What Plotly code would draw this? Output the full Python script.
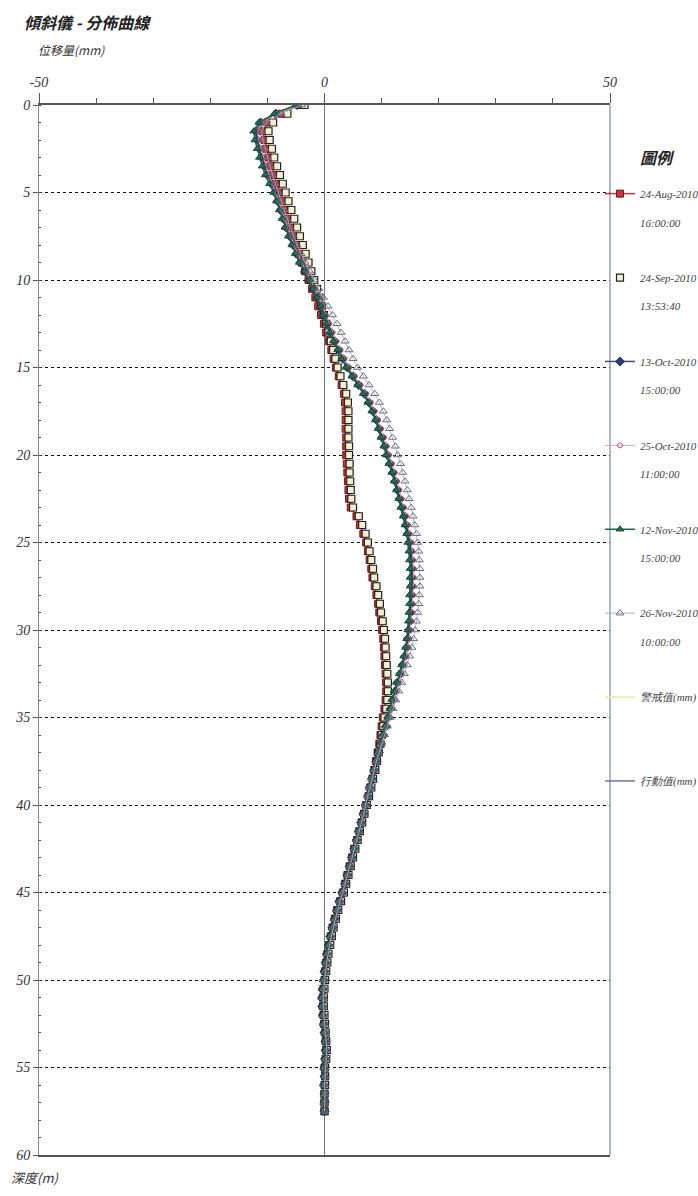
import plotly.graph_objects as go

# Inclinometer readings: depth below collar (m) and cumulative displacement (mm)
depth = [
    0.0, 0.5, 1.0, 1.5, 2.0, 2.5, 3.0, 3.5, 4.0, 4.5,
    5.0, 5.5, 6.0, 6.5, 7.0, 7.5, 8.0, 8.5, 9.0, 9.5,
    10.0, 10.5, 11.0, 11.5, 12.0, 12.5, 13.0, 13.5, 14.0, 14.5,
    15.0, 15.5, 16.0, 16.5, 17.0, 17.5, 18.0, 18.5, 19.0, 19.5,
    20.0, 20.5, 21.0, 21.5, 22.0, 22.5, 23.0, 23.5, 24.0, 24.5,
    25.0, 25.5, 26.0, 26.5, 27.0, 27.5, 28.0, 28.5, 29.0, 29.5,
    30.0, 30.5, 31.0, 31.5, 32.0, 32.5, 33.0, 33.5, 34.0, 34.5,
    35.0, 35.5, 36.0, 36.5, 37.0, 37.5, 38.0, 38.5, 39.0, 39.5,
    40.0, 40.5, 41.0, 41.5, 42.0, 42.5, 43.0, 43.5, 44.0, 44.5,
    45.0, 45.5, 46.0, 46.5, 47.0, 47.5, 48.0, 48.5, 49.0, 49.5,
    50.0, 50.5, 51.0, 51.5, 52.0, 52.5, 53.0, 53.5, 54.0, 54.5,
    55.0, 55.5, 56.0, 56.5, 57.0, 57.5,
]

aug24 = [
    -4.5, -7.5, -10.0, -10.8, -10.5, -10.2, -9.8, -9.4, -9.0, -8.5,
    -8.0, -7.5, -7.0, -6.5, -6.0, -5.5, -5.0, -4.5, -4.0, -3.4,
    -2.8, -2.2, -1.6, -1.1, -0.6, -0.1, 0.3, 0.8, 1.2, 1.6,
    2.0, 2.5, 3.0, 3.4, 3.6, 3.7, 3.7, 3.7, 3.8, 3.8,
    3.8, 3.9, 4.0, 4.1, 4.2, 4.3, 4.6, 5.6, 6.2, 6.8,
    7.3, 7.6, 7.9, 8.2, 8.4, 8.8, 9.1, 9.4, 9.6, 9.9,
    10.1, 10.3, 10.4, 10.5, 10.6, 10.7, 10.8, 10.8, 10.7, 10.5,
    10.2, 10.0, 9.8, 9.6, 9.3, 9.0, 8.7, 8.4, 8.0, 7.7,
    7.3, 6.9, 6.5, 6.1, 5.7, 5.2, 4.8, 4.4, 4.0, 3.6,
    3.2, 2.7, 2.2, 1.8, 1.4, 1.1, 0.8, 0.5, 0.3, 0.1,
    0.0, -0.2, -0.3, -0.3, -0.2, -0.1, 0.1, 0.2, 0.3, 0.2,
    0.0, 0.1, 0.0, 0.0, 0.0, 0.0,
]

sep24 = [
    -3.5, -6.5, -9.0, -9.8, -9.6, -9.2, -8.8, -8.3, -7.8, -7.3,
    -6.8, -6.3, -5.8, -5.3, -4.8, -4.3, -3.8, -3.3, -2.8, -2.3,
    -1.8, -1.3, -0.9, -0.5, -0.1, 0.3, 0.7, 1.1, 1.5, 1.9,
    2.3, 2.8, 3.3, 3.8, 4.1, 4.2, 4.2, 4.2, 4.2, 4.3,
    4.3, 4.4, 4.4, 4.5, 4.6, 4.7, 5.0, 6.0, 6.6, 7.2,
    7.6, 7.9, 8.2, 8.5, 8.7, 9.1, 9.4, 9.7, 9.9, 10.2,
    10.4, 10.6, 10.7, 10.8, 10.9, 11.0, 11.1, 11.1, 11.0, 10.8,
    10.5, 10.3, 10.0, 9.8, 9.5, 9.2, 8.9, 8.5, 8.2, 7.8,
    7.4, 7.0, 6.6, 6.2, 5.8, 5.4, 5.0, 4.6, 4.2, 3.8,
    3.4, 2.9, 2.4, 2.0, 1.6, 1.3, 1.0, 0.7, 0.5, 0.3,
    0.1, 0.0, -0.1, -0.1, 0.0, 0.1, 0.2, 0.3, 0.4, 0.3,
    0.1, 0.1, 0.1, 0.0, 0.0, 0.0,
]

oct13 = [
    -4.8, -8.5, -11.2, -12.0, -11.8, -11.4, -11.0, -10.5, -10.0, -9.3,
    -8.7, -8.2, -7.7, -7.2, -6.7, -6.1, -5.5, -4.9, -4.2, -3.4,
    -2.6, -1.9, -1.2, -0.6, -0.1, 0.5, 1.1, 1.8, 2.5, 3.2,
    4.0, 5.0, 6.0, 7.0, 7.8, 8.5, 9.1, 9.6, 10.1, 10.6,
    11.0, 11.5, 12.0, 12.4, 12.8, 13.2, 13.6, 14.0, 14.3, 14.6,
    14.9, 15.1, 15.2, 15.3, 15.3, 15.3, 15.2, 15.2, 15.1, 15.0,
    14.8, 14.6, 14.4, 14.1, 13.7, 13.3, 12.8, 12.4, 12.0, 11.6,
    11.2, 10.8, 10.3, 9.9, 9.5, 9.1, 8.7, 8.3, 7.9, 7.6,
    7.2, 6.8, 6.4, 6.0, 5.6, 5.2, 4.8, 4.4, 4.0, 3.6,
    3.1, 2.6, 2.2, 1.8, 1.4, 1.0, 0.7, 0.4, 0.2, 0.0,
    -0.1, -0.3, -0.4, -0.4, -0.3, -0.1, 0.0, 0.2, 0.2, 0.1,
    0.0, 0.0, -0.1, 0.0, 0.0, 0.0,
]

oct25 = [
    -4.6, -8.2, -10.9, -11.7, -11.5, -11.1, -10.7, -10.2, -9.7, -9.1,
    -8.5, -8.0, -7.5, -7.0, -6.5, -5.9, -5.3, -4.7, -4.0, -3.2,
    -2.4, -1.7, -1.0, -0.4, 0.2, 0.8, 1.4, 2.1, 2.8, 3.5,
    4.3, 5.3, 6.3, 7.3, 8.1, 8.8, 9.4, 9.9, 10.4, 10.9,
    11.3, 11.8, 12.3, 12.7, 13.1, 13.5, 13.9, 14.3, 14.6, 14.9,
    15.2, 15.4, 15.5, 15.6, 15.6, 15.6, 15.5, 15.4, 15.3, 15.2,
    15.0, 14.8, 14.6, 14.3, 13.9, 13.5, 13.0, 12.6, 12.1, 11.7,
    11.3, 10.9, 10.4, 10.0, 9.5, 9.1, 8.7, 8.3, 7.9, 7.6,
    7.2, 6.8, 6.4, 6.0, 5.6, 5.2, 4.8, 4.4, 4.0, 3.6,
    3.2, 2.7, 2.2, 1.8, 1.4, 1.1, 0.8, 0.5, 0.3, 0.1,
    -0.1, -0.2, -0.3, -0.3, -0.2, -0.1, 0.1, 0.2, 0.3, 0.2,
    0.0, 0.1, 0.0, 0.0, 0.0, 0.0,
]

nov12 = [
    -5.0, -8.8, -11.5, -12.4, -12.2, -11.8, -11.4, -10.9, -10.4, -9.6,
    -8.9, -8.4, -7.9, -7.4, -6.9, -6.3, -5.7, -5.1, -4.4, -3.5,
    -2.7, -2.0, -1.3, -0.7, -0.2, 0.3, 0.9, 1.6, 2.3, 3.0,
    3.8, 4.8, 5.8, 6.8, 7.6, 8.3, 8.9, 9.4, 9.9, 10.4,
    10.8, 11.3, 11.8, 12.2, 12.6, 13.0, 13.4, 13.8, 14.1, 14.4,
    14.6, 14.8, 14.9, 15.0, 15.0, 15.0, 14.9, 14.9, 14.8, 14.7,
    14.6, 14.4, 14.2, 13.9, 13.5, 13.1, 12.6, 12.2, 11.8, 11.5,
    11.1, 10.7, 10.2, 9.8, 9.4, 9.0, 8.6, 8.3, 7.9, 7.6,
    7.2, 6.8, 6.4, 6.0, 5.6, 5.2, 4.8, 4.4, 4.0, 3.6,
    3.1, 2.6, 2.1, 1.7, 1.3, 1.0, 0.7, 0.4, 0.2, 0.0,
    -0.2, -0.4, -0.5, -0.4, -0.3, -0.2, 0.0, 0.1, 0.2, 0.1,
    -0.1, 0.0, -0.1, 0.0, -0.1, 0.0,
]

nov26 = [
    -4.0, -7.6, -10.2, -11.0, -10.8, -10.4, -10.0, -9.5, -9.1, -8.6,
    -8.1, -7.6, -7.1, -6.6, -6.0, -5.4, -4.8, -4.1, -3.4, -2.6,
    -1.8, -1.0, -0.2, 0.6, 1.4, 2.2, 2.9, 3.6, 4.3, 5.0,
    5.8, 6.8, 7.8, 8.8, 9.6, 10.3, 10.9, 11.4, 11.9, 12.4,
    12.8, 13.3, 13.7, 14.1, 14.5, 14.8, 15.2, 15.5, 15.8, 16.1,
    16.3, 16.5, 16.6, 16.7, 16.7, 16.7, 16.6, 16.5, 16.3, 16.1,
    15.9, 15.6, 15.3, 14.9, 14.5, 14.0, 13.5, 13.0, 12.5, 12.0,
    11.5, 11.0, 10.5, 10.0, 9.5, 9.1, 8.7, 8.3, 7.9, 7.6,
    7.2, 6.9, 6.5, 6.1, 5.7, 5.3, 4.9, 4.5, 4.1, 3.7,
    3.2, 2.7, 2.3, 1.9, 1.5, 1.2, 0.9, 0.6, 0.4, 0.2,
    0.0, -0.1, -0.2, -0.2, -0.1, 0.0, 0.2, 0.3, 0.4, 0.3,
    0.1, 0.1, 0.0, 0.1, 0.0, 0.0,
]

x_ticks = [-50, 0, 50]
y_ticks = [0, 5, 10, 15, 20, 25, 30, 35, 40, 45, 50, 55, 60]

LATIN_FONT = "Liberation Serif, Times New Roman, serif"
CJK_FONT = "Noto Sans CJK TC, Noto Sans CJK SC, sans-serif"

PLOT_W = 698 - 39 - 88
PLOT_H = 1196 - 105 - 41

# Legend labels: reading date, blank spacer line, reading time
series = [
    dict(name="24-Aug-2010<br><br>16:00:00", x=aug24, mode="lines+markers",
         line=dict(color="#d0343c", width=1.5),
         marker=dict(symbol="square", size=7, color="#c8323c",
                     line=dict(color="#7a1518", width=1))),
    dict(name="24-Sep-2010<br><br>13:53:40", x=sep24, mode="markers",
         line=dict(color="#e8dca0", width=1),
         marker=dict(symbol="square", size=7, color="#f4efcc",
                     line=dict(color="#222222", width=1.2))),
    dict(name="13-Oct-2010<br><br>15:00:00", x=oct13, mode="lines+markers",
         line=dict(color="#3c4c8e", width=1.5),
         marker=dict(symbol="diamond", size=7, color="#2e3b7c",
                     line=dict(color="#1c2550", width=0.8))),
    dict(name="25-Oct-2010<br><br>11:00:00", x=oct25, mode="lines+markers",
         line=dict(color="#e6a2b0", width=1),
         marker=dict(symbol="circle-open", size=5, color="#cc5266",
                     line=dict(width=1))),
    dict(name="12-Nov-2010<br><br>15:00:00", x=nov12, mode="lines+markers",
         line=dict(color="#1c6a48", width=1.5),
         marker=dict(symbol="triangle-up", size=7, color="#1f6e52",
                     line=dict(color="#0f3d2c", width=0.8))),
    dict(name="26-Nov-2010<br><br>10:00:00", x=nov26, mode="lines+markers",
         line=dict(color="#b4b4c4", width=1),
         marker=dict(symbol="triangle-up-open", size=7, color="#6e6e80",
                     line=dict(width=1))),
]

fig = go.Figure()
for i, s in enumerate(series):
    fig.add_trace(go.Scatter(
        x=s["x"], y=depth, name=s["name"], mode=s["mode"],
        line=s["line"], marker=s["marker"],
        legendgroup=f"g{i}",
    ))

# Threshold entries (alert / action levels) shown in the key
fig.add_trace(go.Scatter(x=[None], y=[None], mode="lines",
                         name="警戒值(mm)<br>&nbsp;<br>&nbsp;",
                         line=dict(color="#efe6a8", width=1.5), legendgroup="g6"))
fig.add_trace(go.Scatter(x=[None], y=[None], mode="lines",
                         name="行動值(mm)<br>&nbsp;<br>&nbsp;",
                         line=dict(color="#6a76a8", width=1.5), legendgroup="g7"))

fig.update_xaxes(
    side="top", range=[-50, 50], tickvals=x_ticks,
    ticktext=[str(v) for v in x_ticks],
    ticks="outside", ticklen=10, tickcolor="#555555", tickwidth=1,
    tickfont=dict(family=LATIN_FONT, size=14, color="#333333", style="italic"),
    minor=dict(dtick=10, ticks="outside", ticklen=5, tickcolor="#555555", showgrid=False),
    showgrid=False, zeroline=True, zerolinecolor="#777777", zerolinewidth=1,
    showline=True, linecolor="#555555", linewidth=2, mirror=True,
)
fig.update_yaxes(
    range=[60, 0], tickvals=y_ticks, ticktext=[str(v) for v in y_ticks],
    ticks="outside", ticklen=5, tickcolor="#555555",
    tickfont=dict(family=LATIN_FONT, size=14, color="#333333", style="italic"),
    minor=dict(dtick=1, ticks="inside", ticklen=2, tickcolor="#444444", showgrid=False),
    showgrid=True, gridcolor="#111111", griddash="dot", gridwidth=1.3,
    zeroline=False, showline=True, linecolor="#888888", linewidth=1, mirror=False,
)

fig.update_layout(
    width=698, height=1196,
    margin=dict(l=39, r=88, t=105, b=41, autoexpand=False),
    plot_bgcolor="white", paper_bgcolor="white",
    showlegend=True,
    legend=dict(
        x=(600 - 39) / PLOT_W, xanchor="left",
        y=1 - (180 - 105) / PLOT_H, yanchor="top",
        font=dict(family=LATIN_FONT, size=11, color="#444444", style="italic"),
        valign="top", tracegroupgap=38, itemwidth=30,
        bgcolor="rgba(0,0,0,0)",
    ),
    annotations=[
        dict(text="<b>傾斜儀 - 分佈曲線</b>", xref="paper", yref="paper",
             x=(22 - 39) / PLOT_W, y=1 + (105 - 22) / PLOT_H,
             xanchor="left", yanchor="middle", showarrow=False,
             font=dict(family=CJK_FONT, size=16, color="#222222", style="italic")),
        dict(text="位移量(mm)", xref="paper", yref="paper",
             x=(36 - 39) / PLOT_W, y=1 + (105 - 50) / PLOT_H,
             xanchor="left", yanchor="middle", showarrow=False,
             font=dict(family=CJK_FONT, size=12, color="#333333", style="italic")),
        dict(text="深度(m)", xref="paper", yref="paper",
             x=(9 - 39) / PLOT_W, y=-(1177 - 1155) / PLOT_H,
             xanchor="left", yanchor="middle", showarrow=False,
             font=dict(family=CJK_FONT, size=13, color="#333333", style="italic")),
        dict(text="<b>圖例</b>", xref="paper", yref="paper",
             x=(657 - 39) / PLOT_W, y=1 - (157 - 105) / PLOT_H,
             xanchor="center", yanchor="middle", showarrow=False,
             font=dict(family=CJK_FONT, size=16, color="#222222", style="italic")),
    ],
    shapes=[
        dict(type="line", xref="paper", yref="paper", x0=1, x1=1, y0=0, y1=1,
             line=dict(color="#8088aa", width=1.2)),
    ],
)

fig.write_html("out.html")
